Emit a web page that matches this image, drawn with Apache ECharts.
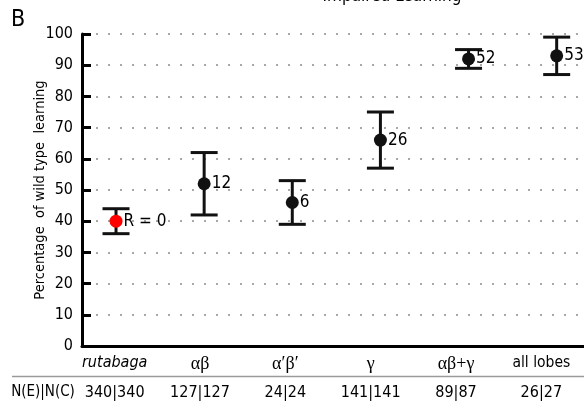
<!DOCTYPE html>
<html><head><meta charset="utf-8">
<script src="https://cdn.jsdelivr.net/npm/echarts@6/dist/echarts.min.js"></script>
<style>html,body{margin:0;padding:0;background:#fff}#c{width:584px;height:407px}</style>
</head><body><div id="c"></div>
<script>
const categories = ['rutabaga', 'αβ', 'α′β′', 'γ', 'αβ+γ', 'all lobes'];
const nLabels = ['340|340', '127|127', '24|24', '141|141', '89|87', '26|27'];
const means = [40, 52, 46, 66, 92, 93];
const lower = [36, 42, 39, 57, 89, 87];
const upper = [44, 62, 53, 75, 95, 99];
const pointLabels = ['R = 0', '12', '6', '26', '52', '53'];
const yTicks = [0, 100, 10];

const FONT = "'Liberation Sans Narrow','DejaVu Sans Condensed','Open Sans',sans-serif";
const chart = echarts.init(document.getElementById('c'));

const errData = categories.map((c, i) => [i, lower[i], upper[i]]);
const ptData = categories.map((c, i) => ({
  value: [i, means[i]],
  itemStyle: { color: i === 0 ? '#ff0000' : '#111111', opacity: 1 },
  label: { formatter: pointLabels[i] }
}));

chart.setOption({
  animation: false,
  grid: [
    { left: 82, top: 34, right: 0, bottom: 61 },
    { left: 72, top: 34, right: -17, bottom: 61 }
  ],
  graphic: [
    { type: 'text', style: { text: 'Impaired Learning', x: 392, y: 5, align: 'center', verticalAlign: 'bottom', font: "17px " + FONT, fill: '#000' } },
    { type: 'text', style: { text: 'B', x: 18, y: 20, align: 'center', verticalAlign: 'middle', font: "23px " + FONT, fill: '#000' } },
    { type: 'line', shape: { x1: 12, y1: 376.5, x2: 584, y2: 376.5 }, style: { stroke: '#9a9a9a', lineWidth: 1.5 } },
    { type: 'text', style: { text: 'N(E)|N(C)', x: 43, y: 392, align: 'center', verticalAlign: 'middle', font: "15px " + FONT, fill: '#000' } }
  ],
  xAxis: [
    { type: 'value', gridIndex: 0, min: -0.386, max: 5.31,
      axisLine: { show: true, onZero: false, lineStyle: { color: '#000', width: 3 } },
      axisTick: { show: false }, axisLabel: { show: false }, splitLine: { show: false } },
    { type: 'category', gridIndex: 1, data: categories, position: 'bottom',
      axisLine: { show: false }, axisTick: { show: false },
      axisLabel: { margin: 9, interval: 0,
        formatter: (v, i) => i === 0 ? '{it|' + v + '}' : (i === 5 ? '{s|' + v + '}' : '{g|' + v + '}'),
        rich: {
          it: { fontFamily: FONT, fontStyle: 'italic', fontSize: 16, color: '#000' },
          s: { fontFamily: FONT, fontSize: 15.5, color: '#000' },
          g: { fontFamily: "'Liberation Serif','DejaVu Serif',serif", fontSize: 18, color: '#000' }
        } } },
    { type: 'category', gridIndex: 1, data: nLabels, position: 'bottom', offset: 30,
      axisLine: { show: false }, axisTick: { show: false },
      axisLabel: { margin: 9, interval: 0, fontFamily: FONT, fontSize: 16, color: '#000' } }
  ],
  yAxis: [
    { type: 'value', gridIndex: 0, min: yTicks[0], max: yTicks[1], interval: yTicks[2],
      name: 'Percentage  of wild type  learning', nameLocation: 'middle', nameGap: 34, nameMoveOverlap: false,
      nameTextStyle: { fontFamily: FONT, fontSize: 14.5, color: '#000' },
      axisLine: { show: true, onZero: false, lineStyle: { color: '#000', width: 3 } },
      axisTick: { show: true, inside: true, length: 9, lineStyle: { color: '#000', width: 3 } },
      axisLabel: { margin: 9, fontFamily: FONT, fontSize: 16, color: '#000' },
      splitLine: { show: true, lineStyle: { color: '#a8a8a8', width: 2, type: [2, 10], dashOffset: -14 } } },
    { type: 'value', gridIndex: 1, min: 0, max: 100, show: false }
  ],
  series: [
    { type: 'custom', xAxisIndex: 0, yAxisIndex: 0, data: errData, z: 3,
      renderItem: (params, api) => {
        const lo = api.coord([api.value(0), api.value(1)]);
        const hi = api.coord([api.value(0), api.value(2)]);
        const hw = 13.5;
        const st = { stroke: '#111', lineWidth: 3 };
        return { type: 'group', children: [
          { type: 'line', shape: { x1: lo[0], y1: lo[1], x2: hi[0], y2: hi[1] }, style: st },
          { type: 'line', shape: { x1: lo[0] - hw, y1: lo[1], x2: lo[0] + hw, y2: lo[1] }, style: st },
          { type: 'line', shape: { x1: hi[0] - hw, y1: hi[1], x2: hi[0] + hw, y2: hi[1] }, style: st }
        ] };
      } },
    { type: 'scatter', xAxisIndex: 0, yAxisIndex: 0, data: ptData, symbolSize: 13, z: 5,
      label: { show: true, position: 'right', distance: 1, fontFamily: FONT, fontSize: 17, color: '#000' } }
  ]
});
</script></body></html>
